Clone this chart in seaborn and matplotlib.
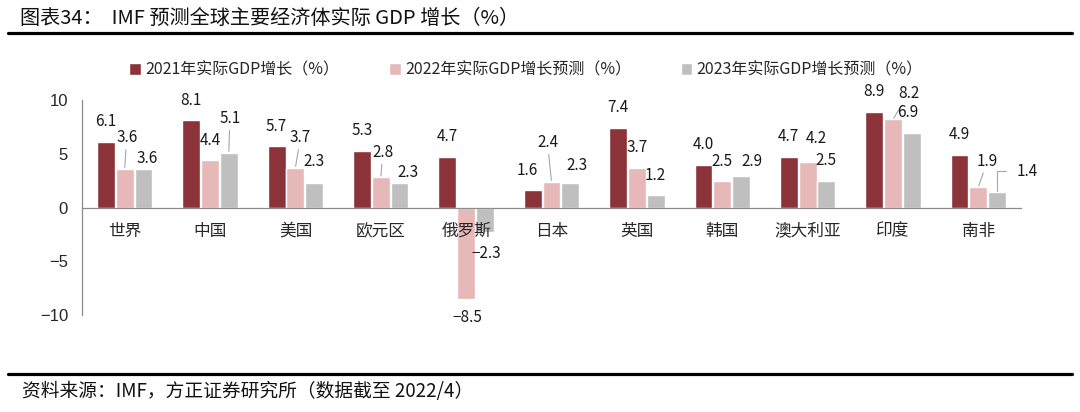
import pandas as pd
import matplotlib
matplotlib.use("Agg")
import matplotlib.pyplot as plt
from matplotlib.lines import Line2D
from matplotlib.ticker import FixedLocator
import seaborn as sns

# data
regions = ["世界", "中国", "美国", "欧元区", "俄罗斯", "日本", "英国", "韩国", "澳大利亚", "印度", "南非"]
series = ["2021年实际GDP增长（%）", "2022年实际GDP增长预测（%）", "2023年实际GDP增长预测（%）"]
gdp_2021 = [6.1, 8.1, 5.7, 5.3, 4.7, 1.6, 7.4, 4.0, 4.7, 8.9, 4.9]
gdp_2022 = [3.6, 4.4, 3.7, 2.8, -8.5, 2.4, 3.7, 2.5, 4.2, 8.2, 1.9]
gdp_2023 = [3.6, 5.1, 2.3, 2.3, -2.3, 2.3, 1.2, 2.9, 2.5, 6.9, 1.4]
colors = ["#8C333A", "#E6B9B8", "#BFBFBF"]

# label offsets in pixels (dx, dy, leader) from bar end, one row per series
offs_2021 = [(0, 20, 0)] * 5 + [(-5, 20, 0)] + [(0, 20, 0)] * 5
offs_2022 = [(2, 31, 1), (0, 20, 0), (5, 30, 1), (2, 25, 1), (1, -19, 0), (-4, 39, 1),
             (0, 20, 0), (0, 19, 0), (9, 24, 0), (16, 26, 1), (9, 26, 1)]
offs_2023 = [(4, 10, 0), (1, 34, 1), (0, 21, 0), (8, 10, 0), (1, -21, 0), (7, 17, 0),
             (0, 19, 0), (11, 15, 0), (0, 20, 0), (-4, 21, 0), (30, 21, 2)]

df = pd.DataFrame({
    "region": regions * 3,
    "series": [series[0]] * 11 + [series[1]] * 11 + [series[2]] * 11,
    "value": gdp_2021 + gdp_2022 + gdp_2023,
})

sns.set_style("white")
plt.rcParams["font.family"] = ["Noto Sans CJK SC", "DejaVu Sans"]

fig = plt.figure(figsize=(10.8, 4.12), dpi=100)
ax = fig.add_axes([82 / 1080, 1 - 315 / 412, (1021 - 82) / 1080, 215 / 412])

sns.barplot(data=df, x="region", y="value", hue="series", order=regions,
            hue_order=series, palette=colors, width=0.66, gap=0.05,
            saturation=1, ax=ax, legend=True)

handles, labels = ax.get_legend_handles_labels()
ax.get_legend().remove()

ax.set_axisbelow(False)
ax.set_xlim(-0.5, len(regions) - 0.5)
ax.set_ylim(-10, 10)
ax.set_yticks([-10, -5, 0, 5, 10])
ax.set_xlabel("")
ax.set_ylabel("")

for s in ["top", "right"]:
    ax.spines[s].set_visible(False)
ax.spines["bottom"].set_position(("data", 0))
for s in ["left", "bottom"]:
    ax.spines[s].set_color("#8C8C8C")
    ax.spines[s].set_linewidth(0.9)

ax.xaxis.set_minor_locator(FixedLocator([i - 0.5 for i in range(len(regions) + 1)]))
ax.tick_params(axis="x", which="major", length=0, pad=11, labelsize=12)
ax.tick_params(axis="x", which="minor", length=4, width=0.9, color="#8C8C8C", direction="out")
ax.tick_params(axis="y", length=4, width=0.9, color="#8C8C8C", direction="out", pad=6, labelsize=12)
for t in ax.get_yticklabels():
    t.set_fontfamily("Liberation Sans")

# value labels
px = 0.72
for cont, vals, offs in zip(ax.containers, [gdp_2021, gdp_2022, gdp_2023],
                            [offs_2021, offs_2022, offs_2023]):
    for bar, v, (dx, dy, lead) in zip(cont, vals, offs):
        x = bar.get_x() + bar.get_width() / 2
        y = bar.get_y() + bar.get_height()
        txt = f"{v:.1f}".replace("-", "−")
        kw = dict(xy=(x, y), xytext=(dx * px, dy * px), textcoords="offset points",
                  ha="center", va="center", fontsize=11, color="#1A1A1A",
                  annotation_clip=False)
        if lead == 1:
            kw["arrowprops"] = dict(arrowstyle="-", color="#A6A6A6", lw=0.8,
                                    shrinkA=0, shrinkB=1)
        elif lead == 2:
            kw["arrowprops"] = dict(arrowstyle="-", color="#A6A6A6", lw=0.8,
                                    shrinkA=5, shrinkB=1, relpos=(0, 0.5),
                                    connectionstyle="angle,angleA=0,angleB=90,rad=0")
        ax.annotate(txt, **kw)

fig.legend(handles, labels, loc="center", bbox_to_anchor=(526 / 1080, 1 - 70 / 412),
           ncol=3, frameon=False, fontsize=11.5, handlelength=0.75, handleheight=0.75,
           handletextpad=0.25, columnspacing=3.1)

# title, rules and source
fig.text(20 / 1080, 1 - 18 / 412, "图表34：  IMF 预测全球主要经济体实际 GDP 增长（%）",
         fontsize=14.5, va="center", ha="left", color="#111111")
fig.add_artist(Line2D([8 / 1080, 1072 / 1080], [1 - 33 / 412] * 2, color="black", lw=2.3))
fig.add_artist(Line2D([8 / 1080, 1072 / 1080], [1 - 374 / 412] * 2, color="black", lw=2.3))
fig.text(22 / 1080, 1 - 392 / 412, "资料来源：IMF，方正证券研究所（数据截至 2022/4）",
         fontsize=13.5, va="center", ha="left", color="#111111")

fig.savefig("out.png", dpi=100)
